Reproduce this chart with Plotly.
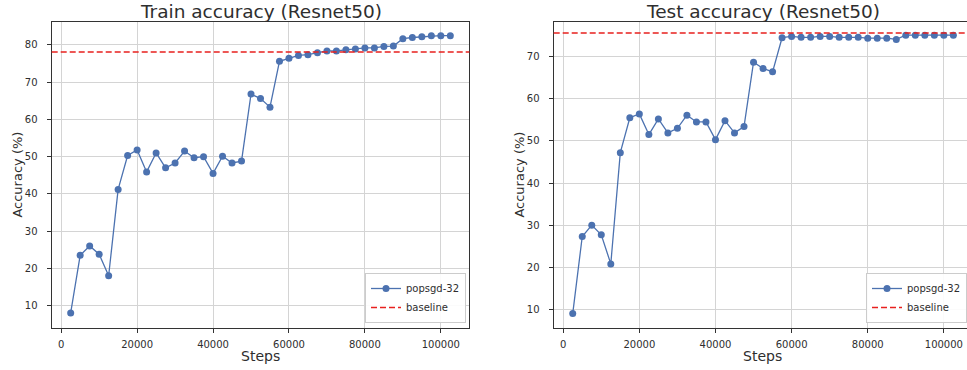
import plotly.graph_objects as go

steps = [2500, 5000, 7500, 10000, 12500, 15000, 17500, 20000, 22500, 25000,
         27500, 30000, 32500, 35000, 37500, 40000, 42500, 45000, 47500, 50000,
         52500, 55000, 57500, 60000, 62500, 65000, 67500, 70000, 72500, 75000,
         77500, 80000, 82500, 85000, 87500, 90000, 92500, 95000, 97500, 100000,
         102500]

train_acc = [8.0, 23.5, 26.0, 23.8, 18.0, 41.2, 50.3, 51.8, 45.9, 51.0,
             47.0, 48.3, 51.5, 49.7, 50.0, 45.5, 50.1, 48.3, 48.8, 66.8,
             65.6, 63.3, 75.6, 76.4, 77.2, 77.4, 77.9, 78.4, 78.4, 78.7,
             78.9, 79.2, 79.2, 79.6, 79.7, 81.7, 82.0, 82.2, 82.5, 82.5,
             82.5]

test_acc = [9.0, 27.3, 30.0, 27.7, 20.8, 47.2, 55.5, 56.4, 51.5, 55.2,
            51.9, 53.0, 56.1, 54.5, 54.5, 50.3, 54.8, 51.9, 53.4, 68.7,
            67.2, 66.4, 74.5, 74.8, 74.6, 74.6, 74.8, 74.8, 74.6, 74.6,
            74.6, 74.4, 74.4, 74.4, 74.1, 75.1, 75.1, 75.1, 75.1, 75.1,
            75.1]

train_baseline = 78.1
test_baseline = 75.6

x_ticks = [0, 20000, 40000, 60000, 80000, 100000]
x_tick_text = ["0", "20000", "40000", "60000", "80000", "100000"]

titles = ["Train accuracy (Resnet50)", "Test accuracy (Resnet50)"]
x_label = "Steps"
y_label = "Accuracy (%)"
series_name = "popsgd-32"
baseline_name = "baseline"

W, H = 967, 370
BLUE = "#4C72B0"
RED = "#E8201E"
TXT = "#2e2e2e"
FONT = "DejaVu Sans"

# pixel geometry of the two axes boxes
left_px = (51.7, 469.3)
right_px = (553.7, 967.0)
top_px, bot_px = 21.7, 327.5

def px_x(p):
    return p / W

def px_y(p):
    return 1 - p / H

fig = go.Figure()

fig.add_trace(go.Scatter(
    x=steps, y=train_acc, mode="lines+markers", name=series_name,
    line=dict(color=BLUE, width=1.3), marker=dict(color=BLUE, size=7),
    xaxis="x", yaxis="y", legend="legend"))
fig.add_trace(go.Scatter(
    x=steps, y=test_acc, mode="lines+markers", name=series_name,
    line=dict(color=BLUE, width=1.3), marker=dict(color=BLUE, size=7),
    xaxis="x2", yaxis="y2", legend="legend2"))

fig.add_shape(type="line", xref="x domain", yref="y", x0=0, x1=1,
              y0=train_baseline, y1=train_baseline,
              line=dict(color=RED, width=1.5, dash="6px,3px"),
              showlegend=True, name=baseline_name, legend="legend")
fig.add_shape(type="line", xref="x2 domain", yref="y2", x0=0, x1=1,
              y0=test_baseline, y1=test_baseline,
              line=dict(color=RED, width=1.5, dash="6px,3px"),
              showlegend=True, name=baseline_name, legend="legend2")

common_axis = dict(
    showgrid=True, gridcolor="#d4d4d4", gridwidth=1, zeroline=False,
    showline=True, linecolor="#333333", linewidth=1.2,
    ticks="outside", ticklen=4, tickcolor="#333333", tickwidth=1,
    tickfont=dict(family=FONT, size=10, color=TXT),
)

ydom = [px_y(bot_px), px_y(top_px)]

fig.update_layout(
    width=W, height=H,
    margin=dict(l=0, r=0, t=0, b=0, autoexpand=False),
    paper_bgcolor="white", plot_bgcolor="white",
    font=dict(family=FONT, color=TXT),
    xaxis=dict(domain=[px_x(left_px[0]), px_x(left_px[1])], anchor="y",
               range=[-2500, 107500], tickvals=x_ticks, ticktext=x_tick_text,
               mirror=True, ticklabelstandoff=3, **common_axis),
    yaxis=dict(domain=ydom, anchor="x", range=[4.1, 86.25], dtick=10,
               mirror=True, ticklabelstandoff=7, **common_axis),
    xaxis2=dict(domain=[px_x(right_px[0]), 1.0], anchor="y2",
                range=[-2500, 106080], tickvals=x_ticks, ticktext=x_tick_text,
                mirror=True, ticklabelstandoff=3, **common_axis),
    yaxis2=dict(domain=ydom, anchor="x2", range=[5.7, 78.3], dtick=10,
                mirror=False, ticklabelstandoff=7, **common_axis),
    legend=dict(x=px_x(466), xanchor="right", y=px_y(323), yanchor="bottom",
                bgcolor="rgba(255,255,255,0.9)", bordercolor="#cccccc",
                borderwidth=1, font=dict(family=FONT, size=10, color=TXT),
                tracegroupgap=0),
    legend2=dict(x=1.0, xanchor="right", y=px_y(323), yanchor="bottom",
                 bgcolor="rgba(255,255,255,0.9)", bordercolor="#cccccc",
                 borderwidth=1, font=dict(family=FONT, size=10, color=TXT),
                 tracegroupgap=0),
)

# titles and axis labels
centers = [(left_px[0] + left_px[1]) / 2, 762.8]
frame_left = [left_px[0], right_px[0]]
for i in range(2):
    fig.add_annotation(text=titles[i], xref="paper", yref="paper",
                       x=px_x(centers[i]), y=px_y(11), xanchor="center",
                       yanchor="middle", showarrow=False,
                       font=dict(family=FONT, size=18.5, color=TXT))
    fig.add_annotation(text=x_label, xref="paper", yref="paper",
                       x=px_x(centers[i]), y=px_y(355.5), xanchor="center",
                       yanchor="middle", showarrow=False,
                       font=dict(family=FONT, size=14, color=TXT))
    fig.add_annotation(text=y_label, xref="paper", yref="paper",
                       x=px_x(frame_left[i] - 33.7), y=px_y((top_px + bot_px) / 2),
                       xanchor="center", yanchor="middle", textangle=-90,
                       showarrow=False,
                       font=dict(family=FONT, size=13, color=TXT))

fig.write_html(
    "out.html",
    config={"displayModeBar": False},
    post_script="document.body.style.margin='0';document.body.style.overflow='hidden';",
)
